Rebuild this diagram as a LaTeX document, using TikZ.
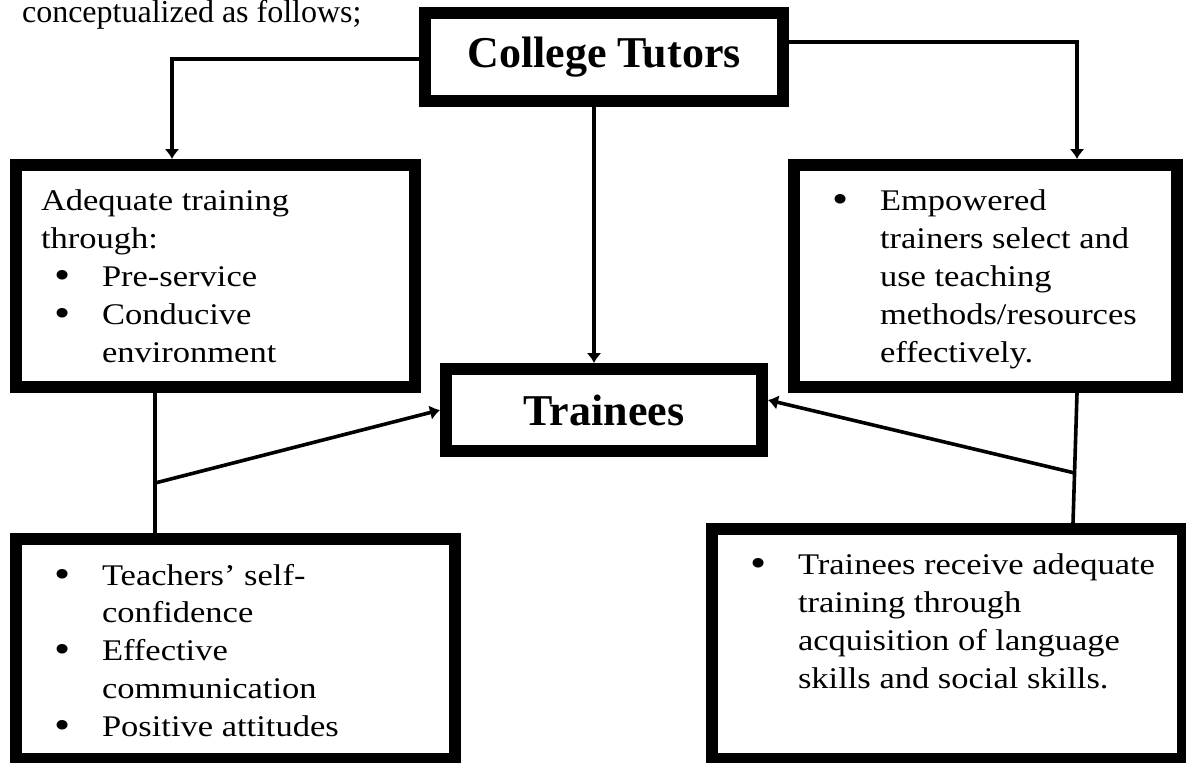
\documentclass[tikz,border=0pt]{standalone}
\usepackage{fontspec}
\setmainfont{Liberation Serif}[FakeStretch=1.15]
\newfontfamily\timesfont{Liberation Serif}
\usetikzlibrary{arrows.meta,calc}
\newcommand{\bigbul}{\raisebox{-1pt}[0pt][0pt]{\fontsize{20pt}{20pt}\selectfont\textbullet}}
\newcommand{\listline}[1]{\par\noindent\mbox{#1}}
\newcommand{\listbul}[1]{\par\noindent\makebox[30.5pt][l]{\hspace{6.5pt}\bigbul}\mbox{#1}}
\newcommand{\listcont}[1]{\par\noindent\hspace*{30.5pt}\mbox{#1}}
\newcommand{\boxbody}[3]{\begin{minipage}[c][#2][t]{#1}\fontsize{15pt}{18.9pt}\selectfont#3\end{minipage}}
\tikzset{heavybox/.style={draw,line width=6pt,inner sep=12.5pt},
  headbox/.style={draw,line width=6pt,inner sep=0pt,font=\timesfont\bfseries\fontsize{22pt}{26pt}\selectfont},
  link/.style={line width=1.8pt}}

\begin{document}
\begin{tikzpicture}[>={Latex[length=5pt,width=7.5pt]},x=0.5pt,y=-0.5pt]
  \useasboundingbox (0,0) rectangle (1186,762);
  \node[anchor=base west,font=\timesfont\fontsize{16pt}{19pt}\selectfont] (intro) at (15,22) {conceptualized as follows;};

  % heading boxes
  \node[headbox,minimum width=179pt,minimum height=44pt] (tutors) at (604,57) {College Tutors};
  \node[headbox,minimum width=158pt,minimum height=41pt] (trainees) at (604,410) {Trainees};

  % list boxes
  \node[heavybox] (adequate) at (215.5,276) {\boxbody{174.5pt}{86pt}{%
    \listline{Adequate training}\listline{through:}%
    \listbul{Pre-service}\listbul{Conducive}\listcont{environment}}};
  \node[heavybox] (empower) at (985.5,276) {\boxbody{166.5pt}{86pt}{%
    \listbul{Empowered}\listcont{trainers select and}\listcont{use teaching}%
    \listcont{methods/resources}\listcont{effectively.}}};
  \node[heavybox] (attitudes) at (235.5,649) {\boxbody{194.5pt}{85pt}{%
    \listbul{Teachers’ self-}\listcont{confidence}\listbul{Effective}%
    \listcont{communication}\listbul{Positive attitudes}}};
  \node[heavybox] (skills) at (947.5,644) {\boxbody{210.5pt}{90pt}{%
    \listbul{Trainees receive adequate}\listcont{training through}%
    \listcont{acquisition of language}\listcont{skills and social skills.}}};

  \draw[link,->] ($(tutors.west)+(0,2)$) -| ($(adequate.north)+(-43.5,0)$);
  \draw[link,->] ($(tutors.east)+(0,-15)$) -| ($(empower.north)+(91.5,0)$);
  \draw[link,->] ($(tutors.south)+(-10,0)$) -- ($(trainees.north)+(-10,0)$);

  \draw[link] ($(adequate.south)+(-60.5,0)$) -- coordinate[pos=0.643] (ljoin) ($(attitudes.north)+(-80.5,0)$);
  \draw[link,->] (ljoin) -- (trainees.west);
  \draw[link] ($(empower.south)+(91.5,0)$) -- coordinate[pos=0.615] (rjoin) ($(skills.north)+(125.5,0)$);
  \draw[link,->] (rjoin) -- ($(trainees.east)+(0,-10)$);
\end{tikzpicture}
\end{document}
